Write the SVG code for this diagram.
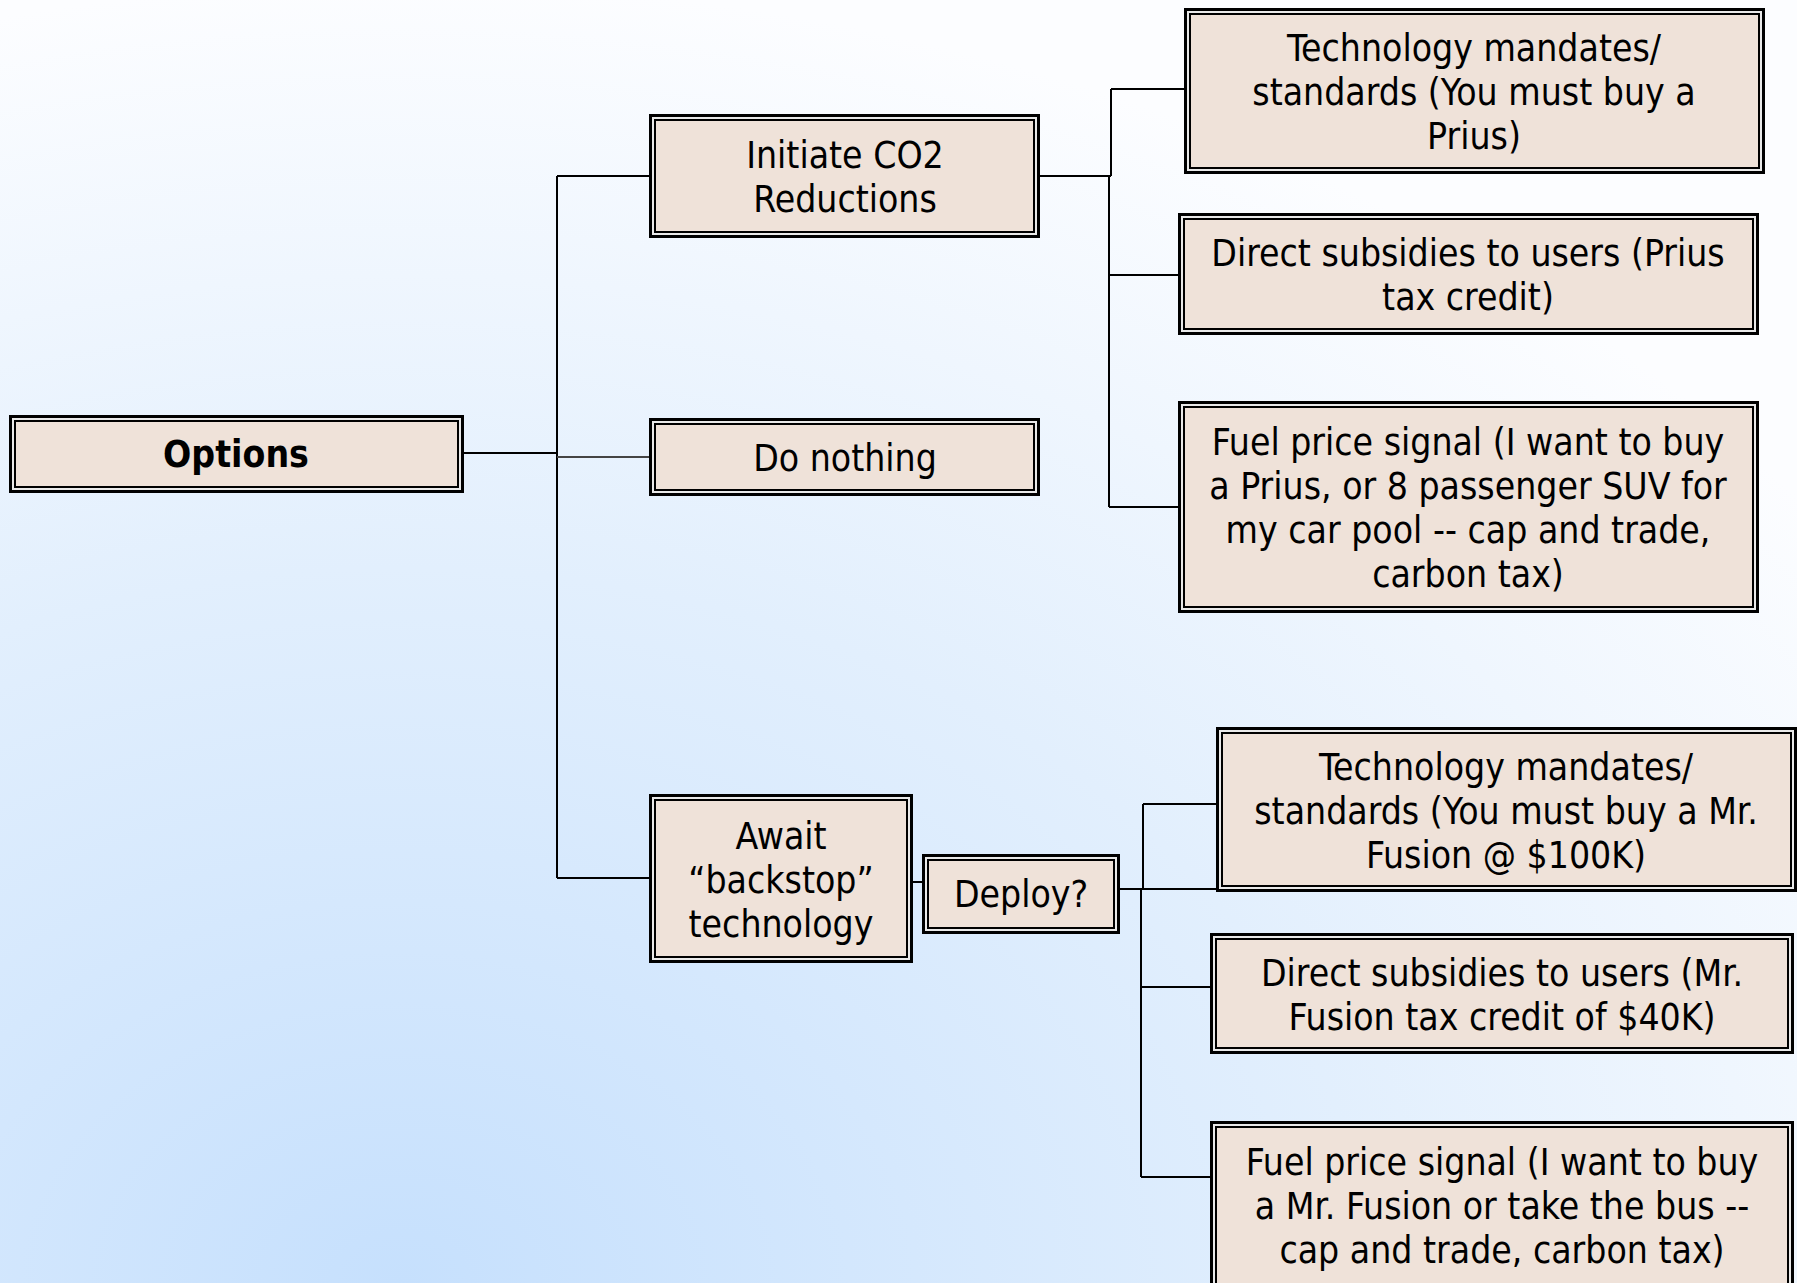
<svg xmlns="http://www.w3.org/2000/svg" width="1797" height="1283" viewBox="0 0 1797 1283">
<defs>
<radialGradient id="bg" gradientUnits="userSpaceOnUse" cx="400" cy="1283" r="1300" gradientTransform="translate(400 1283) scale(1.35 1) translate(-400 -1283)">
<stop offset="0" stop-color="#c6e0fd"/>
<stop offset="0.55" stop-color="#e2effd"/>
<stop offset="1" stop-color="#fcfdff"/>
</radialGradient>
<style>
.o{fill:#e9e9e9;stroke:#000;stroke-width:3}
.i{fill:#efe2d9;stroke:#000;stroke-width:2}
text{font-family:"DejaVu Sans Condensed","DejaVu Sans",sans-serif;font-stretch:condensed;font-size:37px;fill:#000;text-anchor:middle}
.b{font-weight:bold}
.c{fill:none;stroke:#000;stroke-width:2}
.g{fill:none;stroke:#444;stroke-width:2}
</style>
</defs>
<rect width="1797" height="1283" fill="url(#bg)"/>
<g id="connectors">
<path class="c" d="M464 453H557M557 176V878M557 176H650M557 878H650"/>
<path class="g" d="M557 457H650"/>
<path class="c" d="M1040 176H1111M1111 89V176M1111 89H1184M1109 176V507M1109 275H1178M1109 507H1178"/>
<path class="c" d="M912 882H922M1120 889H1216M1143 804V889M1143 804H1216M1141 889V1177M1141 987H1210M1141 1177H1210"/>
<path class="c" d="M1120 889H1141" stroke-width="3"/>
</g>
<g id="options">
<rect class="o" x="10.5" y="416.5" width="452" height="75"/>
<rect class="i" x="15" y="421" width="443" height="66"/>
<text class="b" x="236" y="467">Options</text>
</g>
<g id="initiate">
<rect class="o" x="650.5" y="115.5" width="388" height="121"/>
<rect class="i" x="655" y="120" width="379" height="112"/>
<text x="845" y="168">Initiate CO2</text>
<text x="845" y="212">Reductions</text>
</g>
<g id="donothing">
<rect class="o" x="650.5" y="419.5" width="388" height="75"/>
<rect class="i" x="655" y="424" width="379" height="66"/>
<text x="845" y="471">Do nothing</text>
</g>
<g id="await">
<rect class="o" x="650.5" y="795.5" width="261" height="166"/>
<rect class="i" x="655" y="800" width="252" height="157"/>
<text x="781" y="849">Await</text>
<text x="781" y="893">“backstop”</text>
<text x="781" y="937">technology</text>
</g>
<g id="deploy">
<rect class="o" x="923.5" y="855.5" width="195" height="77"/>
<rect class="i" x="928" y="860" width="186" height="68"/>
<text x="1021" y="907">Deploy?</text>
</g>
<g id="tech1">
<rect class="o" x="1185.5" y="9.5" width="578" height="163"/>
<rect class="i" x="1190" y="14" width="569" height="154"/>
<text x="1474" y="61">Technology mandates/</text>
<text x="1474" y="105">standards (You must buy a</text>
<text x="1474" y="149">Prius)</text>
</g>
<g id="subs1">
<rect class="o" x="1179.5" y="214.5" width="578" height="119"/>
<rect class="i" x="1184" y="219" width="569" height="110"/>
<text x="1468" y="266">Direct subsidies to users (Prius</text>
<text x="1468" y="310">tax credit)</text>
</g>
<g id="fuel1">
<rect class="o" x="1179.5" y="402.5" width="578" height="209"/>
<rect class="i" x="1184" y="407" width="569" height="200"/>
<text x="1468" y="455">Fuel price signal (I want to buy</text>
<text x="1468" y="499">a Prius, or 8 passenger SUV for</text>
<text x="1468" y="543">my car pool -- cap and trade,</text>
<text x="1468" y="587">carbon tax)</text>
</g>
<g id="tech2">
<rect class="o" x="1217.5" y="728.5" width="578" height="162"/>
<rect class="i" x="1222" y="733" width="569" height="153"/>
<text x="1506" y="780">Technology mandates/</text>
<text x="1506" y="824">standards (You must buy a Mr.</text>
<text x="1506" y="868">Fusion @ $100K)</text>
</g>
<g id="subs2">
<rect class="o" x="1211.5" y="934.5" width="581" height="118"/>
<rect class="i" x="1216" y="939" width="572" height="109"/>
<text x="1502" y="986">Direct subsidies to users (Mr.</text>
<text x="1502" y="1030">Fusion tax credit of $40K)</text>
</g>
<g id="fuel2">
<rect class="o" x="1211.5" y="1122.5" width="581" height="168"/>
<rect class="i" x="1216" y="1127" width="572" height="159"/>
<text x="1502" y="1175">Fuel price signal (I want to buy</text>
<text x="1502" y="1219">a Mr. Fusion or take the bus --</text>
<text x="1502" y="1263">cap and trade, carbon tax)</text>
</g>
</svg>
